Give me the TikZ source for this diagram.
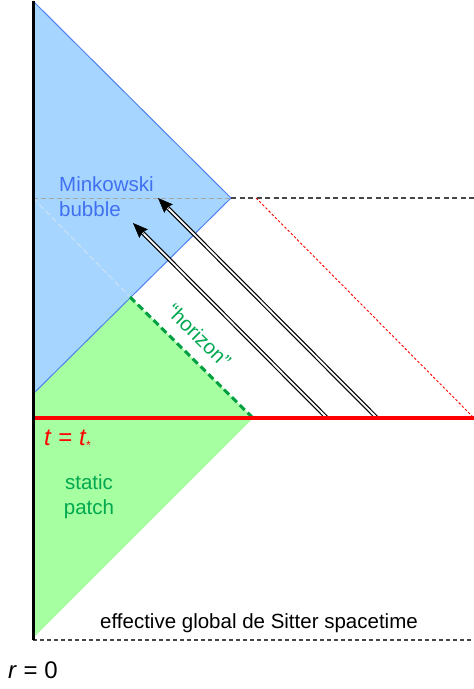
\documentclass[tikz,border=0pt]{standalone}
\usepackage{fontspec}
\setmainfont{Liberation Sans}
\usetikzlibrary{arrows.meta,calc}
\definecolor{bluefill}{RGB}{166,214,255}
\definecolor{blueedge}{RGB}{80,128,240}
\definecolor{bluetext}{RGB}{64,112,240}
\definecolor{greenfill}{RGB}{166,255,160}
\definecolor{greentext}{RGB}{0,168,80}
\definecolor{hordash}{RGB}{0,160,64}
\definecolor{darkdash}{RGB}{70,70,70}
\definecolor{faintline}{RGB}{200,225,245}
\tikzset{
  lbl/.style={inner sep=0pt, font=\fontsize{20.5}{25}\selectfont},
  big/.style={inner sep=0pt, font=\fontsize{24}{28}\selectfont},
  dblarrow/.style={draw=black, double=white, line width=1.2pt, double distance=1.8pt, shorten >=10pt},
  tip/.style={-{Stealth[length=15pt,width=12pt,inset=2pt]}, line width=0.5pt},
}
\begin{document}
\begin{tikzpicture}[x=1pt,y=-1pt]
\useasboundingbox (0,0) rectangle (474,689);
% key points
\coordinate (top) at (33,1);
\coordinate (bt) at (231,198);
\coordinate (bl) at (33,394);
\coordinate (hz) at (130,297);
\coordinate (hb) at (253,418);
\coordinate (bot) at (33,638);
\coordinate (rl) at (33,418);
\coordinate (rr) at (474,418);
\coordinate (dr) at (474,198);
\coordinate (rd1) at (256,198);
\coordinate (rd2) at (474,418);
\coordinate (bl2) at (33,198);
\coordinate (bb) at (33,640);
\coordinate (bbr) at (474,640);
\coordinate (a1s) at (327,418);
\coordinate (a1e) at (133,223);
\coordinate (a2s) at (377,418);
\coordinate (a2e) at (158,198);
% regions
\fill[bluefill] (top) -- (bt) -- (bl) -- cycle;
\fill[greenfill] (bl) -- (hz) -- (hb) -- (bot) -- cycle;
\draw[blueedge, line width=1pt] (top) -- (bt) -- (bl);
% faint lines inside bubble
\draw[gray!70, line width=0.8pt, dash pattern=on 5pt off 3pt] (bl2) -- (bt);
\draw[faintline, line width=1.2pt, dash pattern=on 6pt off 3pt] (bl2) -- (hz);
% dashed lines
\draw[darkdash, line width=1.5pt, dash pattern=on 5pt off 3.5pt] (bt) -- (dr);
\draw[red, line width=0.9pt, dash pattern=on 2.5pt off 2pt] (rd1) -- (rd2);
\draw[hordash, line width=3pt, dash pattern=on 7pt off 4pt] (hz) -- (hb);
% arrows
\draw[dblarrow] (a1s) -- (a1e);
\draw[tip] ($(a1e)!15pt!(a1s)$) -- (a1e);
\draw[dblarrow] (a2s) -- (a2e);
\draw[tip] ($(a2e)!15pt!(a2s)$) -- (a2e);
% red line
\draw[red, line width=4pt] (rl) -- (rr);
% r=0 line and bottom dashed
\draw[darkdash, line width=1.3pt, dash pattern=on 4pt off 3pt] (bb) -- (bbr);
\draw[black, line width=3pt] (top) -- (bb);
% labels
\node[lbl, bluetext, anchor=west, align=left] (mink) at (59,197) {Minkowski\\bubble};
\node[lbl, greentext, rotate=-45] (hor) at (199,336) {``horizon''};
\node[big, red, anchor=west] (tt) at (44,440) {\itshape t\/ \upshape= \itshape t\raisebox{-0.35ex}{\fontsize{12}{12}\selectfont *}};
\node[lbl, greentext, align=center] (sp) at (89,497) {static\\patch};
\node[lbl, anchor=center] (eff) at (259,623) {effective global de Sitter spacetime};
\node[big, anchor=west] (r0) at (8,670) {\itshape r\/ \upshape= 0};
\end{tikzpicture}
\end{document}
